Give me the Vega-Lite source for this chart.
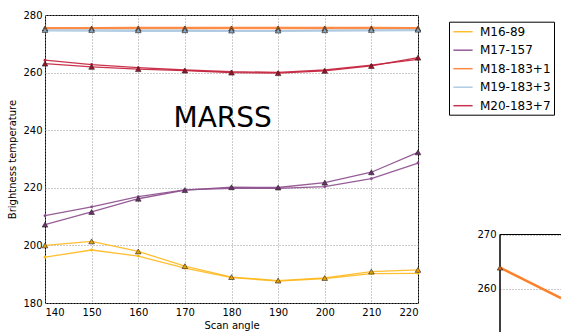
{
  "$schema": "https://vega.github.io/schema/vega-lite/v6.json",
  "background": "white",
  "padding": {"left": 7, "top": 9, "right": 0, "bottom": 0},
  "bounds": "flush",
  "spacing": 82,
  "config": {
    "font": "DejaVu Sans",
    "view": {"stroke": "black", "strokeWidth": 1},
    "axis": {
      "labelFont": "DejaVu Sans", "labelFontSize": 10, "labelColor": "black",
      "titleFont": "DejaVu Sans", "titleFontSize": 10, "titleFontWeight": "normal", "titleColor": "black",
      "ticks": false, "domain": false,
      "grid": true, "gridColor": "#999999", "gridDash": [1, 2], "gridWidth": 1
    }
  },
  "datasets": {
    "tb": [
      {"a": 140, "tb": 200.0, "ch": "M16-89", "kind": "obs"},
      {"a": 150, "tb": 201.4, "ch": "M16-89", "kind": "obs"},
      {"a": 160, "tb": 197.9, "ch": "M16-89", "kind": "obs"},
      {"a": 170, "tb": 192.8, "ch": "M16-89", "kind": "obs"},
      {"a": 180, "tb": 189.0, "ch": "M16-89", "kind": "obs"},
      {"a": 190, "tb": 187.8, "ch": "M16-89", "kind": "obs"},
      {"a": 200, "tb": 188.7, "ch": "M16-89", "kind": "obs"},
      {"a": 210, "tb": 190.9, "ch": "M16-89", "kind": "obs"},
      {"a": 220, "tb": 191.5, "ch": "M16-89", "kind": "obs"},
      {"a": 140, "tb": 195.9, "ch": "M16-89", "kind": "sim"},
      {"a": 150, "tb": 198.4, "ch": "M16-89", "kind": "sim"},
      {"a": 160, "tb": 196.3, "ch": "M16-89", "kind": "sim"},
      {"a": 170, "tb": 192.1, "ch": "M16-89", "kind": "sim"},
      {"a": 180, "tb": 188.8, "ch": "M16-89", "kind": "sim"},
      {"a": 190, "tb": 187.6, "ch": "M16-89", "kind": "sim"},
      {"a": 200, "tb": 188.5, "ch": "M16-89", "kind": "sim"},
      {"a": 210, "tb": 190.2, "ch": "M16-89", "kind": "sim"},
      {"a": 220, "tb": 190.3, "ch": "M16-89", "kind": "sim"},
      {"a": 140, "tb": 207.2, "ch": "M17-157", "kind": "obs"},
      {"a": 150, "tb": 211.6, "ch": "M17-157", "kind": "obs"},
      {"a": 160, "tb": 216.2, "ch": "M17-157", "kind": "obs"},
      {"a": 170, "tb": 219.2, "ch": "M17-157", "kind": "obs"},
      {"a": 180, "tb": 220.2, "ch": "M17-157", "kind": "obs"},
      {"a": 190, "tb": 220.1, "ch": "M17-157", "kind": "obs"},
      {"a": 200, "tb": 221.8, "ch": "M17-157", "kind": "obs"},
      {"a": 210, "tb": 225.4, "ch": "M17-157", "kind": "obs"},
      {"a": 220, "tb": 232.3, "ch": "M17-157", "kind": "obs"},
      {"a": 140, "tb": 210.3, "ch": "M17-157", "kind": "sim"},
      {"a": 150, "tb": 213.4, "ch": "M17-157", "kind": "sim"},
      {"a": 160, "tb": 216.9, "ch": "M17-157", "kind": "sim"},
      {"a": 170, "tb": 219.3, "ch": "M17-157", "kind": "sim"},
      {"a": 180, "tb": 219.8, "ch": "M17-157", "kind": "sim"},
      {"a": 190, "tb": 219.8, "ch": "M17-157", "kind": "sim"},
      {"a": 200, "tb": 220.4, "ch": "M17-157", "kind": "sim"},
      {"a": 210, "tb": 223.2, "ch": "M17-157", "kind": "sim"},
      {"a": 220, "tb": 228.6, "ch": "M17-157", "kind": "sim"},
      {"a": 140, "tb": 275.3, "ch": "M18-183+1", "kind": "obs"},
      {"a": 150, "tb": 275.3, "ch": "M18-183+1", "kind": "obs"},
      {"a": 160, "tb": 275.3, "ch": "M18-183+1", "kind": "obs"},
      {"a": 170, "tb": 275.3, "ch": "M18-183+1", "kind": "obs"},
      {"a": 180, "tb": 275.3, "ch": "M18-183+1", "kind": "obs"},
      {"a": 190, "tb": 275.3, "ch": "M18-183+1", "kind": "obs"},
      {"a": 200, "tb": 275.3, "ch": "M18-183+1", "kind": "obs"},
      {"a": 210, "tb": 275.3, "ch": "M18-183+1", "kind": "obs"},
      {"a": 220, "tb": 275.3, "ch": "M18-183+1", "kind": "obs"},
      {"a": 140, "tb": 275.6, "ch": "M18-183+1", "kind": "sim"},
      {"a": 150, "tb": 275.6, "ch": "M18-183+1", "kind": "sim"},
      {"a": 160, "tb": 275.7, "ch": "M18-183+1", "kind": "sim"},
      {"a": 170, "tb": 275.7, "ch": "M18-183+1", "kind": "sim"},
      {"a": 180, "tb": 275.7, "ch": "M18-183+1", "kind": "sim"},
      {"a": 190, "tb": 275.7, "ch": "M18-183+1", "kind": "sim"},
      {"a": 200, "tb": 275.7, "ch": "M18-183+1", "kind": "sim"},
      {"a": 210, "tb": 275.7, "ch": "M18-183+1", "kind": "sim"},
      {"a": 220, "tb": 275.6, "ch": "M18-183+1", "kind": "sim"},
      {"a": 140, "tb": 274.8, "ch": "M19-183+3", "kind": "obs"},
      {"a": 150, "tb": 274.8, "ch": "M19-183+3", "kind": "obs"},
      {"a": 160, "tb": 274.7, "ch": "M19-183+3", "kind": "obs"},
      {"a": 170, "tb": 274.7, "ch": "M19-183+3", "kind": "obs"},
      {"a": 180, "tb": 274.6, "ch": "M19-183+3", "kind": "obs"},
      {"a": 190, "tb": 274.6, "ch": "M19-183+3", "kind": "obs"},
      {"a": 200, "tb": 274.7, "ch": "M19-183+3", "kind": "obs"},
      {"a": 210, "tb": 274.8, "ch": "M19-183+3", "kind": "obs"},
      {"a": 220, "tb": 274.9, "ch": "M19-183+3", "kind": "obs"},
      {"a": 140, "tb": 274.5, "ch": "M19-183+3", "kind": "sim"},
      {"a": 150, "tb": 274.4, "ch": "M19-183+3", "kind": "sim"},
      {"a": 160, "tb": 274.3, "ch": "M19-183+3", "kind": "sim"},
      {"a": 170, "tb": 274.3, "ch": "M19-183+3", "kind": "sim"},
      {"a": 180, "tb": 274.3, "ch": "M19-183+3", "kind": "sim"},
      {"a": 190, "tb": 274.3, "ch": "M19-183+3", "kind": "sim"},
      {"a": 200, "tb": 274.4, "ch": "M19-183+3", "kind": "sim"},
      {"a": 210, "tb": 274.5, "ch": "M19-183+3", "kind": "sim"},
      {"a": 220, "tb": 274.6, "ch": "M19-183+3", "kind": "sim"},
      {"a": 140, "tb": 263.1, "ch": "M20-183+7", "kind": "obs"},
      {"a": 150, "tb": 262.0, "ch": "M20-183+7", "kind": "obs"},
      {"a": 160, "tb": 261.2, "ch": "M20-183+7", "kind": "obs"},
      {"a": 170, "tb": 260.7, "ch": "M20-183+7", "kind": "obs"},
      {"a": 180, "tb": 260.0, "ch": "M20-183+7", "kind": "obs"},
      {"a": 190, "tb": 259.8, "ch": "M20-183+7", "kind": "obs"},
      {"a": 200, "tb": 260.6, "ch": "M20-183+7", "kind": "obs"},
      {"a": 210, "tb": 262.3, "ch": "M20-183+7", "kind": "obs"},
      {"a": 220, "tb": 265.2, "ch": "M20-183+7", "kind": "obs"},
      {"a": 140, "tb": 264.3, "ch": "M20-183+7", "kind": "sim"},
      {"a": 150, "tb": 262.8, "ch": "M20-183+7", "kind": "sim"},
      {"a": 160, "tb": 261.7, "ch": "M20-183+7", "kind": "sim"},
      {"a": 170, "tb": 260.9, "ch": "M20-183+7", "kind": "sim"},
      {"a": 180, "tb": 260.3, "ch": "M20-183+7", "kind": "sim"},
      {"a": 190, "tb": 260.1, "ch": "M20-183+7", "kind": "sim"},
      {"a": 200, "tb": 260.9, "ch": "M20-183+7", "kind": "sim"},
      {"a": 210, "tb": 262.6, "ch": "M20-183+7", "kind": "sim"},
      {"a": 220, "tb": 264.6, "ch": "M20-183+7", "kind": "sim"}
    ],
    "inset": [
      {"a": 140, "tb": 263.85, "ch": "M18-183+1", "kind": "obs"},
      {"a": 150, "tb": 258.2, "ch": "M18-183+1", "kind": "obs"}
    ],
    "label": [
      {"a": 178.1, "tb": 241.1, "name": "MARSS"}
    ]
  },
  "resolve": {"scale": {"color": "independent", "x": "independent", "y": "independent"}},
  "hconcat": [
    {
      "width": 373,
      "height": 288,
      "encoding": {
        "x": {"field": "a", "type": "quantitative", "scale": {"domain": [140, 220], "nice": false, "zero": false},
          "axis": {"values": [140, 150, 160, 170, 180, 190, 200, 210, 220], "title": "Scan angle", "labelPadding": 4, "titlePadding": 3}},
        "y": {"field": "tb", "type": "quantitative", "scale": {"domain": [180, 280], "nice": false, "zero": false},
          "axis": {"values": [180, 200, 220, 240, 260, 280], "title": "Brightness temperature", "labelPadding": 3, "titlePadding": 5}}
      },
      "layer": [
        {
          "data": {"name": "tb"},
          "mark": {"type": "line", "strokeWidth": 1.3, "opacity": 0.9},
          "encoding": {
            "color": {"field": "ch", "type": "nominal",
              "scale": {"domain": ["M16-89", "M17-157", "M18-183+1", "M19-183+3", "M20-183+7"],
                "range": ["#FFB81C", "#8B4B8B", "#FF8033", "#A9C6E0", "#C41E3A"]},
              "legend": {"title": null, "orient": "none", "legendX": 404, "legendY": 6.7,
                "strokeColor": "black", "fillColor": "white", "padding": 3,
                "symbolType": "M-1.6,0H1.6", "symbolSize": 144, "symbolStrokeWidth": 1.5, "symbolOffset": 4,
                "labelFont": "DejaVu Sans", "labelFontSize": 12, "labelColor": "black", "labelOffset": 10,
                "rowPadding": 5.5, "cornerRadius": 0}},
            "detail": {"field": "kind"}
          }
        },
        {
          "data": {"name": "tb"},
          "transform": [{"filter": "datum.kind === 'sim'"}],
          "mark": {"type": "point", "shape": "circle", "filled": true, "size": 8, "opacity": 1},
          "encoding": {"color": {"field": "ch", "type": "nominal", "legend": null}}
        },
        {
          "data": {"name": "tb"},
          "transform": [{"filter": "datum.kind === 'obs'"}],
          "mark": {"type": "point", "shape": "triangle-up", "filled": true, "size": 32, "opacity": 1, "stroke": "#222222", "strokeWidth": 0.6},
          "encoding": {"fill": {"field": "ch", "type": "nominal",
            "scale": {"domain": ["M16-89", "M17-157", "M18-183+1", "M19-183+3", "M20-183+7"],
              "range": ["#E8A000", "#6E2F6E", "#D9661A", "#8AA6C0", "#A01028"]}, "legend": null}}
        },
        {
          "data": {"name": "label"},
          "mark": {"type": "text", "font": "DejaVu Sans", "fontSize": 28, "align": "center", "baseline": "alphabetic", "color": "black"},
          "encoding": {"text": {"field": "name"}}
        }
      ]
    },
    {
      "width": 61,
      "height": 318,
      "view": {"stroke": null},
      "data": {"name": "inset"},
      "encoding": {
        "x": {"field": "a", "type": "quantitative", "scale": {"domain": [140, 150], "nice": false, "zero": false}, "axis": null},
        "y": {"field": "tb", "type": "quantitative", "scale": {"domain": [251.76, 310.65], "nice": false, "zero": false},
          "axis": {"values": [260, 270], "title": null, "labelPadding": 4}}
      },
      "layer": [
        {"mark": {"type": "rule", "color": "black", "strokeWidth": 1}, "encoding": {"y": {"datum": 270}, "x": {"datum": 140}, "x2": {"datum": 150}}},
        {"mark": {"type": "rule", "color": "black", "strokeWidth": 1}, "encoding": {"x": {"datum": 140}, "y": {"datum": 270}, "y2": {"datum": 251.76}}},
        {"mark": {"type": "line", "color": "#FF7F27", "strokeWidth": 2.5, "clip": true}},
        {"transform": [{"filter": "datum.a === 140"}],
          "mark": {"type": "point", "shape": "triangle-up", "filled": true, "size": 30, "fill": "#D9661A", "stroke": "#222222", "strokeWidth": 0.6, "opacity": 1}}
      ]
    }
  ]
}
